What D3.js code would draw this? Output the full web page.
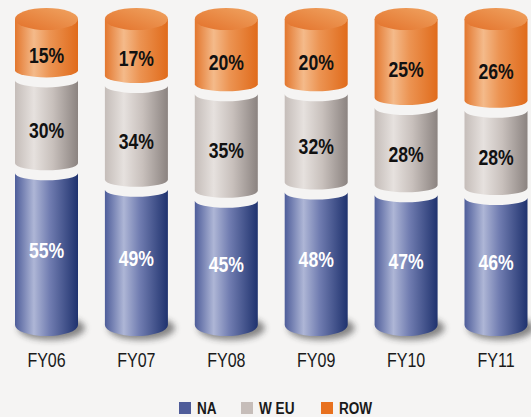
<!DOCTYPE html>
<html lang="en">
<head>
<meta charset="UTF-8">
<title>Regional split FY06-FY11</title>
<script src="https://d3js.org/d3.v7.min.js"></script>
<style>
  body { margin: 0; background: #f5f4f3; }
  text { font-family: "Liberation Sans", Arial, sans-serif; }
</style>
</head>
<body>
<script>
// data
var years = ["FY06", "FY07", "FY08", "FY09", "FY10", "FY11"];
var na  = [55, 49, 45, 48, 47, 46];
var weu = [30, 34, 35, 32, 28, 28];
var row = [15, 17, 20, 20, 25, 26];
var seriesNames = ["NA", "W EU", "ROW"];

var width = 531, height = 417;
var rx = 31.5, capRy = 11, innerRy = 7, gap = 10, capExtra = 10;
var narrow = 0.8; // condensed look, the narrow face is not installed

var svg = d3.select("body").append("svg")
    .attr("width", width)
    .attr("height", height);

svg.append("rect").attr("width", width).attr("height", height).attr("fill", "#f5f4f3");

var defs = svg.append("defs");
function hGrad(id, stops) {
    var g = defs.append("linearGradient").attr("id", id)
        .attr("x1", 0).attr("y1", 0).attr("x2", 1).attr("y2", 0);
    stops.forEach(function (s) {
        g.append("stop").attr("offset", s[0]).attr("stop-color", s[1]);
    });
}
hGrad("g-row", [[0, "#e3772e"], [0.3, "#f4ba8a"], [0.55, "#ec9453"], [1, "#e06b1b"]]);
hGrad("g-weu", [[0, "#c5bdb9"], [0.3, "#e6e1de"], [0.6, "#c8c0bc"], [1, "#8b8380"]]);
hGrad("g-na",  [[0, "#4e5d9a"], [0.3, "#aeb6d6"], [0.55, "#717db1"], [1, "#1f326e"]]);
var cap = defs.append("linearGradient").attr("id", "g-cap")
    .attr("x1", 0).attr("y1", 1).attr("x2", 1).attr("y2", 0);
cap.append("stop").attr("offset", 0).attr("stop-color", "#e3712a");
cap.append("stop").attr("offset", 1).attr("stop-color", "#f0a462");
defs.append("filter").attr("id", "blur")
    .attr("x", "-50%").attr("y", "-50%").attr("width", "200%").attr("height", "200%")
    .append("feGaussianBlur").attr("stdDeviation", 3);

var x = d3.scalePoint().domain(years).range([46.5, 496]);
var y = d3.scaleLinear().domain([0, 100]).range([325, 49]);
var topY = y(100) - 2 * gap - capExtra;

// build segments (bottom up: NA, W EU, ROW)
var cols = years.map(function (yr, i) {
    var vals = [na[i], weu[i], row[i]];
    var segs = [], acc = 0;
    vals.forEach(function (v, k) {
        var bottom = y(acc) - k * gap;
        var top = (k === 2) ? topY : y(acc + v) - k * gap;
        segs.push({ k: k, v: v, top: top, bottom: bottom, cx: x(yr) });
        acc += v;
    });
    return { year: yr, cx: x(yr), segs: segs };
});

var fills = ["url(#g-na)", "url(#g-weu)", "url(#g-row)"];
var labelDy = [1, 8, 11];
var labelColor = ["#ffffff", "#111111", "#111111"];

// shadows
svg.selectAll(".shadow").data(cols).enter().append("ellipse")
    .attr("cx", d => d.cx + 5)
    .attr("cy", y(0) + 3)
    .attr("rx", rx + 2)
    .attr("ry", capRy + 1)
    .attr("fill", "#2a2a2a")
    .attr("opacity", 0.55)
    .attr("filter", "url(#blur)");

function segPath(s) {
    var l = s.cx - rx, r = s.cx + rx;
    var ryBottom = (s.k === 0) ? capRy : innerRy;
    var p = "M" + l + "," + s.top;
    if (s.k === 2) p += "L" + r + "," + s.top;
    else p += "A" + rx + "," + innerRy + " 0 0 0 " + r + "," + s.top;
    p += "L" + r + "," + s.bottom;
    p += "A" + rx + "," + ryBottom + " 0 0 1 " + l + "," + s.bottom + "Z";
    return p;
}

var g = svg.selectAll(".col").data(cols).enter().append("g");
g.selectAll("path").data(d => d.segs).enter().append("path")
    .attr("d", segPath)
    .attr("fill", d => fills[d.k]);
g.append("ellipse")
    .attr("cx", d => d.cx)
    .attr("cy", topY)
    .attr("rx", rx)
    .attr("ry", capRy)
    .attr("fill", "url(#g-cap)");

g.selectAll(".lbl").data(d => d.segs).enter().append("text")
    .attr("transform", d => "translate(" + d.cx + "," + ((d.top + d.bottom) / 2 + labelDy[d.k]) + ") scale(" + narrow + ",1)")
    .attr("text-anchor", "middle")
    .attr("dominant-baseline", "central")
    .attr("font-size", 22)
    .attr("font-weight", 600)
    .attr("fill", d => labelColor[d.k])
    .text(d => d.v + "%");

// category labels
svg.selectAll(".year").data(years).enter().append("text")
    .attr("transform", d => "translate(" + x(d) + ",367) scale(" + narrow + ",1)")
    .attr("text-anchor", "middle")
    .attr("font-size", 20)
    .attr("fill", "#1a1a1a")
    .text(d => d);

// legend
var legendColors = ["#4f5c99", "#c6bdb9", "#e8711f"];
var legendX = [179, 241, 321];
var lg = svg.selectAll(".leg").data(seriesNames).enter().append("g")
    .attr("transform", (d, i) => "translate(" + legendX[i] + ",402)");
lg.append("rect").attr("width", 12).attr("height", 12)
    .attr("fill", (d, i) => legendColors[i]);
lg.append("text")
    .attr("transform", "translate(18,12) scale(" + narrow + ",1)")
    .attr("font-size", 17).attr("font-weight", "bold")
    .attr("fill", "#1a1a1a")
    .text(d => d);
</script>
</body>
</html>
